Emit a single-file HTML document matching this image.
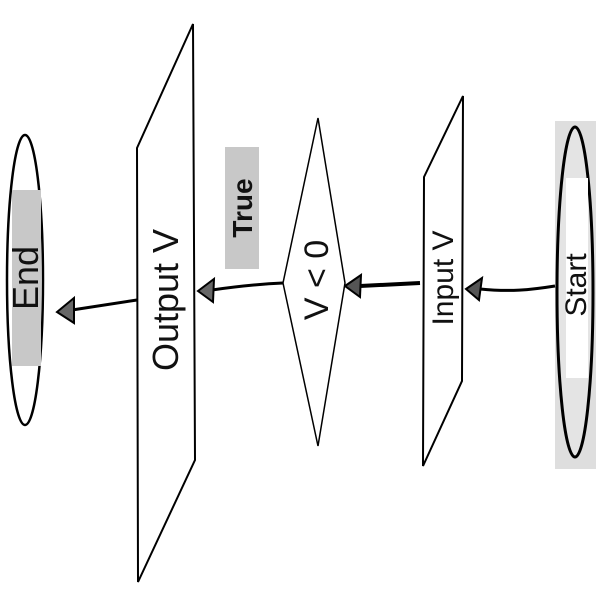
<!DOCTYPE html>
<html><head><style>body{margin:0;background:#fff}svg{display:block}</style></head><body>
<svg width="600" height="600" viewBox="0 0 600 600" xmlns="http://www.w3.org/2000/svg" font-family="Liberation Sans, sans-serif">
<rect width="600" height="600" fill="#fff"/>
<!-- Start -->
<rect x="555" y="121" width="41" height="348" fill="#dedede"/>
<ellipse cx="575" cy="292" rx="18" ry="165" fill="#e4e4e4" stroke="#000" stroke-width="3"/>
<rect x="566" y="178" width="22" height="200" fill="#fff"/>
<text transform="translate(586,285) rotate(-90)" font-size="30" text-anchor="middle" fill="#111">Start</text>
<!-- arrow start->input -->
<path d="M555,286 C530,290 510,292 480,289" stroke="#000" stroke-width="3" fill="none"/>
<polygon points="466,289 482,278 479,300" fill="#555" stroke="#000" stroke-width="2"/>
<!-- Input -->
<polygon points="424,177 463,96 462,381 423,466" fill="#fff" stroke="#000" stroke-width="2"/>
<text transform="translate(453,278) rotate(-90)" font-size="30" text-anchor="middle" fill="#111">Input V</text>
<!-- arrow input->diamond -->
<path d="M420,283 L360,286" stroke="#000" stroke-width="4" fill="none"/>
<polygon points="345,286 361,275 360,297" fill="#555" stroke="#000" stroke-width="2"/>
<!-- Diamond -->
<polygon points="318,118 345,283 318,446 283,283" fill="#fff" stroke="#000" stroke-width="1.5"/>
<text transform="translate(328,280) rotate(-90)" font-size="34" text-anchor="middle" fill="#111">V &lt; 0</text>
<!-- True label -->
<rect x="225" y="147" width="34" height="122" fill="#c8c8c8"/>
<text transform="translate(252,208) rotate(-90)" font-size="28" font-weight="bold" text-anchor="middle" fill="#111">True</text>
<!-- arrow diamond->output -->
<path d="M283,283 C260,284 240,286 212,290" stroke="#000" stroke-width="3" fill="none"/>
<polygon points="198,291 214,279 213,302" fill="#666" stroke="#000" stroke-width="2"/>
<!-- Output -->
<polygon points="137,148 193,24 195,460 138,582" fill="#fff" stroke="#000" stroke-width="2"/>
<text transform="translate(178,300) rotate(-90)" font-size="36" text-anchor="middle" fill="#111">Output V</text>
<!-- arrow output->end -->
<path d="M137,300 L72,310" stroke="#000" stroke-width="3" fill="none"/>
<polygon points="57,312 74,298 74,323" fill="#666" stroke="#000" stroke-width="2"/>
<!-- End -->
<ellipse cx="25" cy="280" rx="18" ry="145" fill="#fff" stroke="#000" stroke-width="2.5"/>
<rect x="12" y="190" width="29" height="176" fill="#c8c8c8"/>
<text transform="translate(38,278) rotate(-90)" font-size="36" text-anchor="middle" fill="#111">End</text>
</svg>
</body></html>
